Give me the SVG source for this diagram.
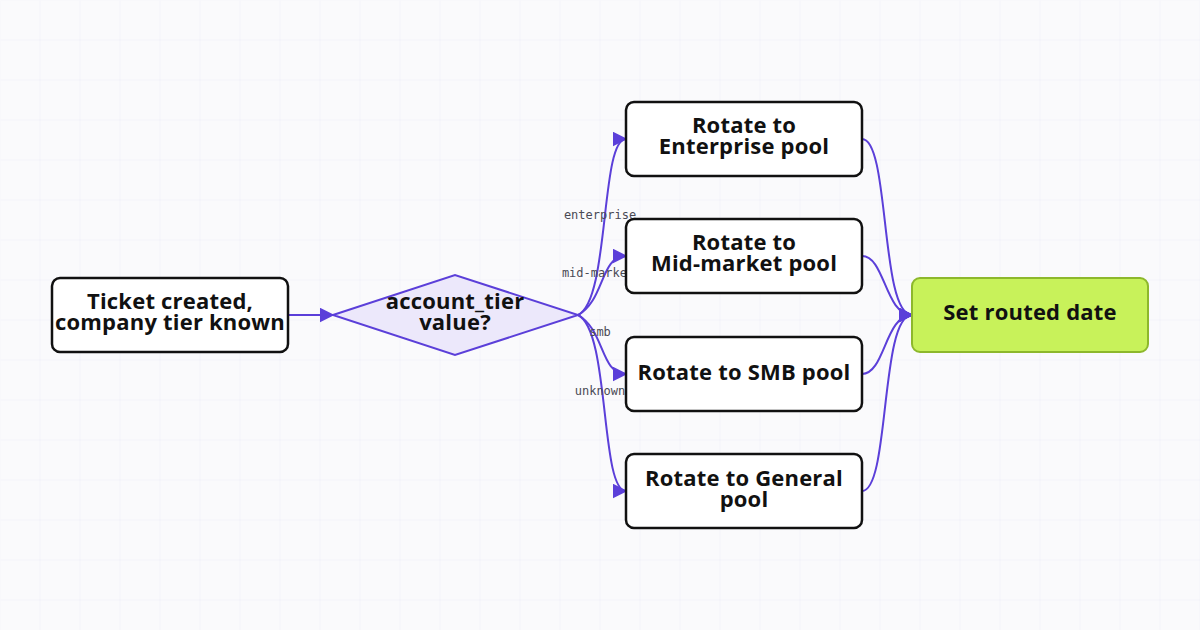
<svg xmlns="http://www.w3.org/2000/svg" width="1200" height="630" viewBox="0 0 1200 630">
<defs>
<pattern id="grid" width="40" height="40" patternUnits="userSpaceOnUse"><path d="M40 0V40M0 40H40" fill="none" stroke="#ececf6" stroke-width="1"/></pattern>
<marker id="ah" viewBox="0 0 10 10" refX="9" refY="5" markerWidth="15" markerHeight="15" markerUnits="userSpaceOnUse" orient="auto"><path d="M0 0L10 5L0 10z" fill="#5b3fd9"/></marker>
<style>
.e{fill:none;stroke:#5b3fd9;stroke-width:2;marker-end:url(#ah)}
.n{fill:#fff;stroke:#111;stroke-width:2.5}
.t{font-family:"Open Sans",Inter,sans-serif;font-weight:700;font-size:22px;fill:#111;text-anchor:middle;letter-spacing:0.2px}
.l{font-family:"DejaVu Sans Mono","Liberation Mono",monospace;font-size:12px;fill:#4a4a55;text-anchor:middle}
</style>
</defs>
<rect width="1200" height="630" fill="#fafafc"/>
<rect width="1200" height="630" fill="url(#grid)" transform="translate(0.5 0.5)"/>
<g id="connectors">
<path class="e" d="M288 315H333"/>
<path class="e" d="M578 315C610 300 600 139 626 139"/>
<path class="e" d="M578 315C605 300 600 256 626 256"/>
<path class="e" d="M578 315C605 330 600 374 626 374"/>
<path class="e" d="M578 315C610 330 600 491 626 491"/>
<path class="e" d="M862 139C890 139 880 315 912 315"/>
<path class="e" d="M862 256C885 256 885 315 912 315"/>
<path class="e" d="M862 374C885 374 885 315 912 315"/>
<path class="e" d="M862 491C890 491 880 315 912 315"/>
<text class="l" x="600" y="219">enterprise</text>
<text class="l" x="598" y="277">mid-market</text>
<text class="l" x="600" y="336">smb</text>
<text class="l" x="600" y="395">unknown</text>
</g>
<g id="start"><rect class="n" x="52" y="278" width="236" height="74" rx="8"/><text class="t" x="170" y="309">Ticket created,</text><text class="t" x="170" y="330">company tier known</text></g>
<g id="decision"><path d="M333 315L455 275L578 315L455 355Z" fill="#ece8fb" stroke="#5b3fd9" stroke-width="2"/><text class="t" x="455" y="309">account_tier</text><text class="t" x="455" y="330">value?</text></g>
<g id="enterprise"><rect class="n" x="626" y="102" width="236" height="74" rx="8"/><text class="t" x="744" y="133">Rotate to</text><text class="t" x="744" y="154">Enterprise pool</text></g>
<g id="midmarket"><rect class="n" x="626" y="219" width="236" height="74" rx="8"/><text class="t" x="744" y="250">Rotate to</text><text class="t" x="744" y="271">Mid-market pool</text></g>
<g id="smb"><rect class="n" x="626" y="337" width="236" height="74" rx="8"/><text class="t" x="744" y="380">Rotate to SMB pool</text></g>
<g id="general"><rect class="n" x="626" y="454" width="236" height="74" rx="8"/><text class="t" x="744" y="486">Rotate to General</text><text class="t" x="744" y="507">pool</text></g>
<g id="routed"><rect x="912" y="278" width="236" height="74" rx="8" fill="#c8f25a" stroke="#8db82c" stroke-width="2"/><text class="t" x="1030" y="320">Set routed date</text></g>
</svg>
